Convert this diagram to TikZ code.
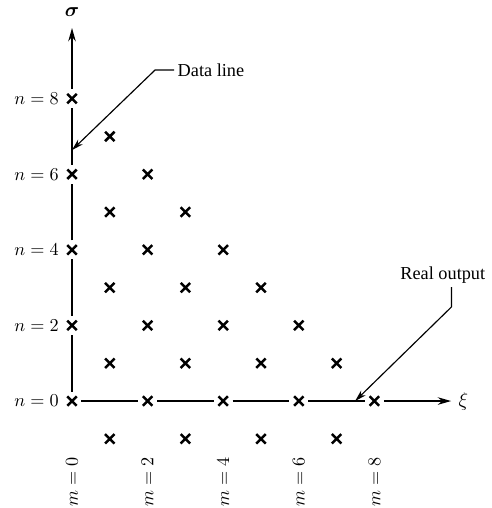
\documentclass[tikz,border=0pt]{standalone}
\usepackage{amsmath}
\usepackage{fontspec}
\setmainfont{Liberation Serif}
\usetikzlibrary{
  arrows.meta,
  positioning,
  shapes.misc
}

\begin{document}
\begin{tikzpicture}[
  x=0.8cm, y=0.8cm,
  % Node styles
  lattice/.style={
    cross out,
    draw=black,
    line width=1.5pt,
    minimum size=0.2cm,
    inner sep=0pt,
    outer sep=0pt,
  },
  nlabel/.style={
    font=\fontsize{11}{13}\selectfont,
    inner sep=2pt,
  },
  mlabel/.style={
    font=\fontsize{11}{13}\selectfont,
    rotate=90,
    inner sep=1pt,
  },
  callout/.style={
    font=\fontsize{11}{13}\selectfont,
    inner sep=2pt,
  },
  axis/.style={
    -{Stealth[length=8pt,width=4.5pt]},
    line width=1.2pt,
    shorten <=0.1cm,
  },
  seg/.style={
    line width=1.2pt,
    shorten <=0.1cm,
    shorten >=0.1cm,
  },
  pointer/.style={
    -{Stealth[length=7pt,width=4pt]},
    line width=0.7pt,
  },
]
\useasboundingbox (-1.905,-2.83) rectangle (11.11,10.61);

% ── Lattice points (m, n) ──
\node[lattice] (m0n8) at (0, 8) {};
\node[lattice] (m1n7) at (1, 7) {};
\node[lattice] (m0n6) at (0, 6) {};
\node[lattice] (m2n6) at (2, 6) {};
\node[lattice] (m1n5) at (1, 5) {};
\node[lattice] (m3n5) at (3, 5) {};
\node[lattice] (m0n4) at (0, 4) {};
\node[lattice] (m2n4) at (2, 4) {};
\node[lattice] (m4n4) at (4, 4) {};
\node[lattice] (m1n3) at (1, 3) {};
\node[lattice] (m3n3) at (3, 3) {};
\node[lattice] (m5n3) at (5, 3) {};
\node[lattice] (m0n2) at (0, 2) {};
\node[lattice] (m2n2) at (2, 2) {};
\node[lattice] (m4n2) at (4, 2) {};
\node[lattice] (m6n2) at (6, 2) {};
\node[lattice] (m1n1) at (1, 1) {};
\node[lattice] (m3n1) at (3, 1) {};
\node[lattice] (m5n1) at (5, 1) {};
\node[lattice] (m7n1) at (7, 1) {};
\node[lattice] (m0n0) at (0, 0) {};
\node[lattice] (m2n0) at (2, 0) {};
\node[lattice] (m4n0) at (4, 0) {};
\node[lattice] (m6n0) at (6, 0) {};
\node[lattice] (m8n0) at (8, 0) {};
\node[lattice] (m1low) at (1, -1) {};
\node[lattice] (m3low) at (3, -1) {};
\node[lattice] (m5low) at (5, -1) {};
\node[lattice] (m7low) at (7, -1) {};

% ── Axis labels ──
\node[nlabel, left=3pt of m0n8] (n8) {$n=8$};
\node[nlabel, left=3pt of m0n6] (n6) {$n=6$};
\node[nlabel, left=3pt of m0n4] (n4) {$n=4$};
\node[nlabel, left=3pt of m0n2] (n2) {$n=2$};
\node[nlabel, left=3pt of m0n0] (n0) {$n=0$};

\node[mlabel] (mm0) at (0, -2.15) {$m=0$};
\node[mlabel] (mm2) at (2, -2.15) {$m=2$};
\node[mlabel] (mm4) at (4, -2.15) {$m=4$};
\node[mlabel] (mm6) at (6, -2.15) {$m=6$};
\node[mlabel] (mm8) at (8, -2.15) {$m=8$};

% ── Axes ──
\coordinate (sigtop) at (0, 9.87);
\coordinate (xiend) at (10.03, 0);
\node[font=\large] (siglab) at (0, 10.29) {$\boldsymbol{\sigma}$};
\node[right=1pt of xiend, font=\large] (xilab) {$\xi$};

\draw[seg] (m0n0) -- (m0n2);
\draw[seg] (m0n2) -- (m0n4);
\draw[seg] (m0n4) -- (m0n6);
\draw[seg] (m0n6) -- (m0n8);
\draw[axis] (m0n8) -- (sigtop);

\draw[seg] (m0n0) -- (m2n0);
\draw[seg] (m2n0) -- (m4n0);
\draw[seg] (m4n0) -- (m6n0);
\draw[seg] (m6n0) -- (m8n0);
\draw[axis] (m8n0) -- (xiend);

% ── Callouts ──
\node[callout, anchor=west] (datalab) at (2.70, 8.76) {Data line};
\coordinate (databend) at (2.2, 8.76);
\coordinate (datatip) at (0, 6.64);
\draw[pointer] (datalab.west) -- (databend) -- (datatip);

\node[callout] (reallab) at (9.81, 3.33) {Real output};
\coordinate (realbend) at (10.04, 2.49);
\coordinate (realtip) at (7.49, 0);
\draw[pointer] (reallab.south -| realbend) -- (realbend) -- (realtip);

\end{tikzpicture}
\end{document}
